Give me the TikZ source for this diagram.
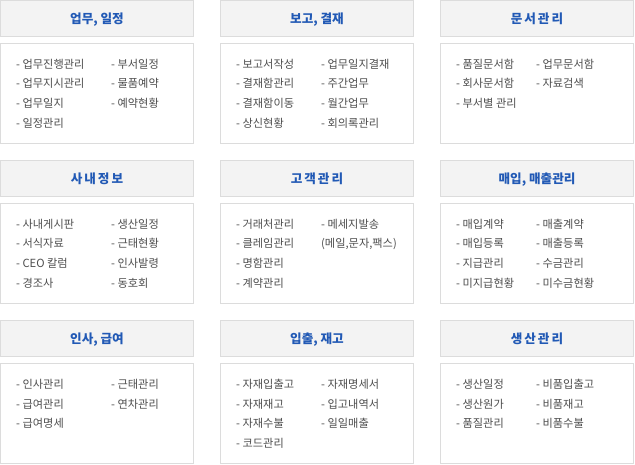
\documentclass[tikz,border=0pt]{standalone}
\usepackage{fontspec}
\setmainfont{Noto Sans CJK KR}
\definecolor{hdrfill}{HTML}{F3F3F3}
\definecolor{boxline}{HTML}{DCDCDC}
\definecolor{ttl}{HTML}{2159B5}
\definecolor{itm}{HTML}{4E4E4E}
\tikzset{
  hdrbox/.style={draw=boxline, fill=hdrfill, line width=1pt, minimum width=193pt, minimum height=36pt, inner sep=0pt, outer sep=0pt},
  bodybox/.style={draw=boxline, fill=white, line width=1pt, minimum width=193pt, minimum height=100pt, inner sep=0pt, outer sep=0pt},
  ttltext/.style={text=ttl, font=\fontsize{12.6}{14}\selectfont\bfseries, inner sep=0pt, anchor=base},
  itemtext/.style={text=itm, font=\fontsize{11.2}{13}\selectfont, inner sep=0pt, anchor=base west},
}
\newcommand\mkpanel[4]{%
  \node[hdrbox, anchor=north west] (#1h) at (#2+0.5,#3+0.5) {};
  \node[bodybox, anchor=north west] (#1b) at (#2+0.5,#3+43.5) {};
  \node[ttltext] (#1t) at (#2+97,#3+23.6) {#4};
}
\newcommand\mkitems[4]{%
  \foreach \t [count=\i] in {#4}
    \node[itemtext] (#1\i) at (#2,{#3+25.3+19.7*(\i-1)}) {- \t};
}
\newcommand\lsp{\hspace{2pt}}
\begin{document}
\begin{tikzpicture}[x=1pt,y=-1pt]
\useasboundingbox (0,0) rectangle (635,465);
% row 1
\mkpanel{pa}{0}{0}{업무, 일정}
\mkitems{pal}{16}{43}{업무진행관리,업무지시관리,업무일지,일정관리}
\mkitems{par}{111}{43}{부서일정,물품예약,예약현황}
\mkpanel{pb}{220}{0}{보고, 결재}
\mkitems{pbl}{236}{43}{보고서작성,결재함관리,결재함이동,상신현황}
\mkitems{pbr}{321}{43}{업무일지결재,주간업무,월간업무,회의록관리}
\mkpanel{pc}{440}{0}{문\lsp 서\lsp 관\lsp 리}
\mkitems{pcl}{456}{43}{품질문서함,회사문서함,부서별 관리}
\mkitems{pcr}{536}{43}{업무문서함,자료검색}
% row 2
\mkpanel{pd}{0}{160}{사\lsp 내\lsp 정\lsp 보}
\mkitems{pdl}{16}{203}{사내게시판,서식자료,CEO 칼럼,경조사}
\mkitems{pdr}{111}{203}{생산일정,근태현황,인사발령,동호회}
\mkpanel{pe}{220}{160}{고\lsp 객\lsp 관\lsp 리}
\mkitems{pel}{236}{203}{거래처관리,클레임관리,명함관리,계약관리}
\mkitems{per}{321}{203}{메세지발송}
\node[itemtext] (per2) at (321,{203+25.3+19.7}) {(메일,문자,팩스)};
\mkpanel{pf}{440}{160}{매입, 매출관리}
\mkitems{pfl}{456}{203}{매입계약,매입등록,지급관리,미지급현황}
\mkitems{pfr}{536}{203}{매출계약,매출등록,수금관리,미수금현황}
% row 3
\mkpanel{pg}{0}{320}{인사, 급여}
\mkitems{pgl}{16}{363}{인사관리,급여관리,급여명세}
\mkitems{pgr}{111}{363}{근태관리,연차관리}
\mkpanel{ph}{220}{320}{입출, 재고}
\mkitems{phl}{236}{363}{자재입출고,자재재고,자재수불,코드관리}
\mkitems{phr}{321}{363}{자재명세서,입고내역서,일일매출}
\mkpanel{pi}{440}{320}{생\lsp 산\lsp 관\lsp 리}
\mkitems{pil}{456}{363}{생산일정,생산원가,품질관리}
\mkitems{pir}{536}{363}{비품입출고,비품재고,비품수불}
\end{tikzpicture}
\end{document}
